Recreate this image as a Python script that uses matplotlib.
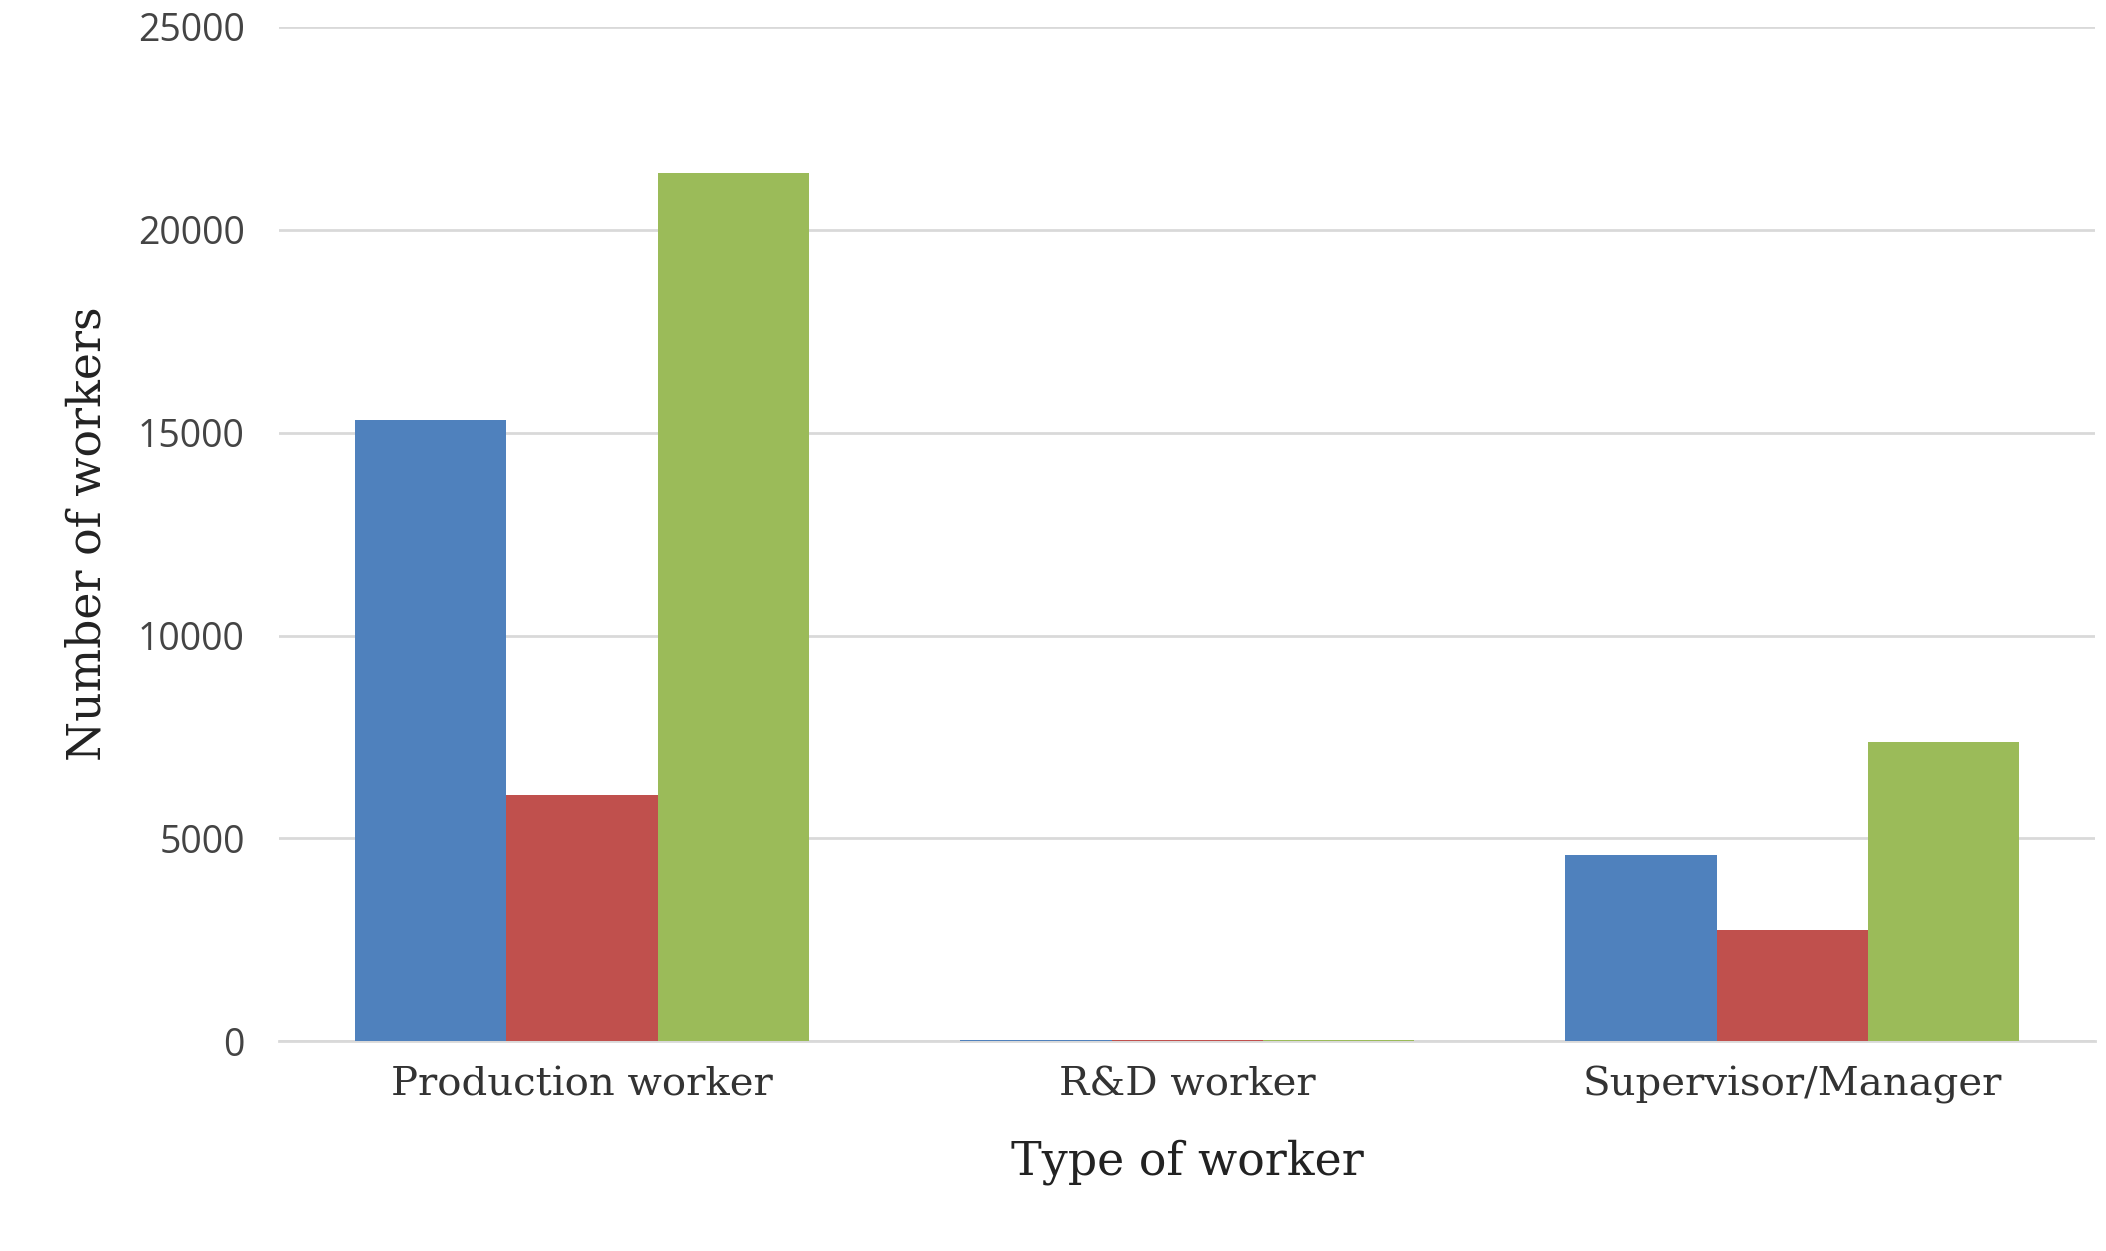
import matplotlib
matplotlib.use("Agg")
import matplotlib.pyplot as plt
import numpy as np

categories = ["Production worker", "R&D worker", "Supervisor/Manager"]
series1 = [15300, 40, 4600]
series2 = [6080, 40, 2750]
series3 = [21400, 40, 7380]
colors = ["#4f81bd", "#c0504d", "#9bbb59"]
yticks = [0, 5000, 10000, 15000, 20000, 25000]

fig = plt.figure(figsize=(21.06, 12.51), dpi=100)
ax = fig.add_axes([0.1327, 0.1676, 0.862, 0.811])
x = np.arange(len(categories))
w = 0.25
for i, (vals, c) in enumerate(zip([series1, series2, series3], colors)):
    ax.bar(x + (i - 1) * w, vals, w, color=c, zorder=3)

ax.set_xlim(-0.5, 2.5)
ax.set_ylim(0, 25000)
ax.set_yticks(yticks)
ax.set_yticklabels([str(t) for t in yticks], fontsize=27, color="#444444", family="Open Sans")
ax.set_xticks(x)
ax.set_xticklabels(categories, fontsize=29, color="#333333", family="DejaVu Serif")
ax.grid(axis="y", color="#d9d9d9", linewidth=2, zorder=0)
for s in ["top", "right", "left"]:
    ax.spines[s].set_visible(False)
ax.spines["bottom"].set_color("#d9d9d9")
ax.spines["bottom"].set_linewidth(2)
ax.tick_params(length=0, pad=18)
ax.tick_params(axis="y", pad=25)
ax.set_xlabel("Type of worker", fontsize=33, color="#222222", family="DejaVu Serif", labelpad=25)
ax.set_ylabel("Number of workers", fontsize=33, color="#222222", family="DejaVu Serif", labelpad=20)
fig.savefig("out.png", dpi=100, facecolor="white")
